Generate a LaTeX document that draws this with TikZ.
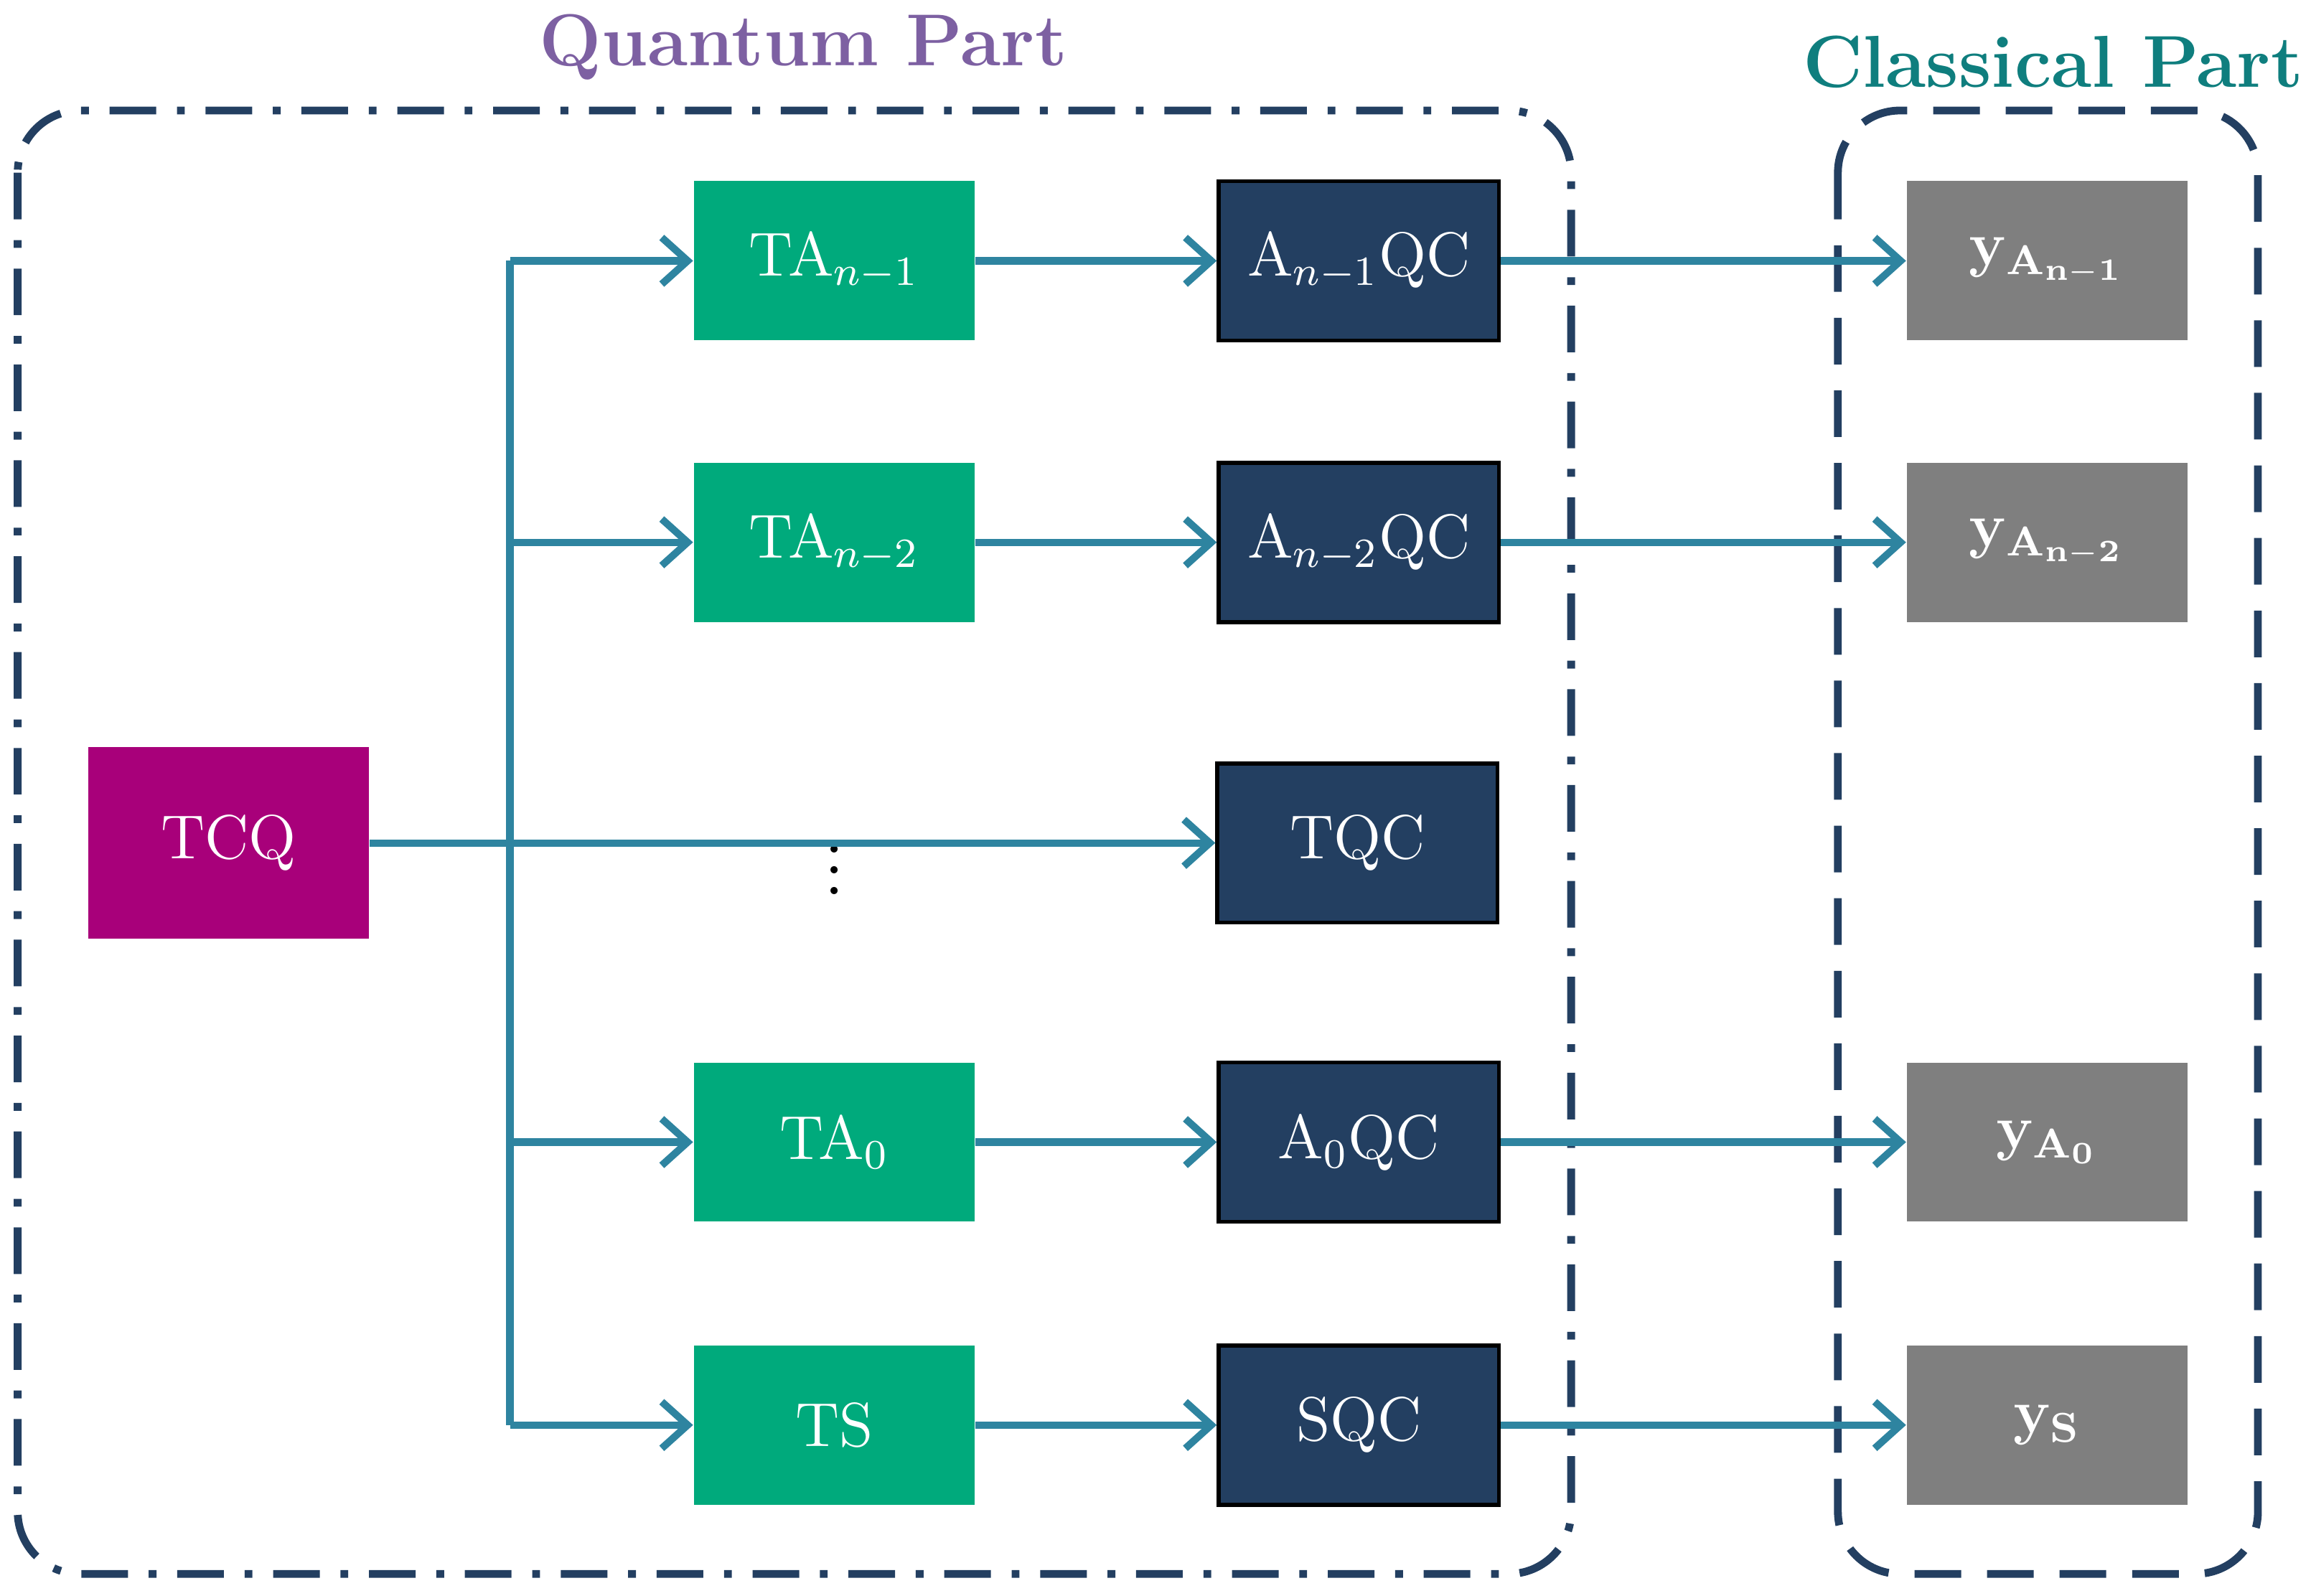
\documentclass[tikz,border=0pt]{standalone}
\usetikzlibrary{arrows.meta}
\definecolor{navy}{HTML}{233F61}
\definecolor{tgreen}{HTML}{00AA7C}
\definecolor{tcq}{HTML}{A8007A}
\definecolor{gbox}{HTML}{7F7F7F}
\definecolor{arr}{HTML}{2E84A0}
\definecolor{qpurple}{HTML}{7D60A2}
\definecolor{cteal}{HTML}{0F7E7E}
\begin{document}
\begin{tikzpicture}[x=0.01cm,y=-0.01cm,
  box/.style={minimum width=1.9cm,minimum height=1.08cm,inner sep=0pt,font=\large,text=white},
  ta/.style={box,fill=tgreen},
  qc/.style={box,fill=navy,draw=black,line width=0.8pt},
  yb/.style={box,fill=gbox},
  con/.style={draw=arr,line width=1.4pt,-{Straight Barb[length=5pt,width=9pt]}},
  bus/.style={draw=arr,line width=1.4pt}]
\useasboundingbox (0,0) rectangle (1568,1083);
\draw[navy,line width=1.5pt,dash pattern=on 9pt off 4pt on 1.5pt off 4pt,rounded corners=12pt] (12,75) rectangle (1066,1068);
\draw[navy,line width=1.5pt,dash pattern=on 9pt off 5pt,rounded corners=12pt] (1247,75) rectangle (1532,1068);
\node[text=qpurple,font=\bfseries\fontsize{14.2}{17}\selectfont] (qt) at (545,32) {Quantum Part};
\node[text=cteal,font=\bfseries\fontsize{14.2}{17}\selectfont] (ct) at (1393,42) {Classical Part};
\node[box,fill=tcq,minimum height=1.3cm] (tcq) at (155,572) {TCQ};
\node[ta] (ta1) at (566,177) {TA$_{n-1}$};
\node[ta] (ta2) at (566,368) {TA$_{n-2}$};
\node[ta] (ta0) at (566,775) {TA$_0$};
\node[ta] (ts) at (566,967) {TS};
\node[qc] (q1) at (922,177) {A$_{n-1}$QC};
\node[qc] (q2) at (922,368) {A$_{n-2}$QC};
\node[qc] (tqc) at (921,572) {TQC};
\node[qc] (q0) at (922,775) {A$_0$QC};
\node[qc] (sqc) at (922,967) {SQC};
\node[yb] (y1) at (1389,177) {$\mathbf{y}_{\mathbf{A_{n-1}}}$};
\node[yb] (y2) at (1389,368) {$\mathbf{y}_{\mathbf{A_{n-2}}}$};
\node[yb] (y0) at (1389,775) {$\mathbf{y}_{\mathbf{A_{0}}}$};
\node[yb] (ys) at (1389,967) {$\mathbf{y}_{\mathbf{S}}$};
\node[inner sep=0pt,font=\Large] (dots) at (566,580) {$\vdots$};
\coordinate (bt) at (346,177);
\coordinate (bb) at (346,967);
\draw[bus] (bt) -- (bb);
\draw[con] (bt) -- (ta1);
\draw[con] (346,368) -- (ta2);
\draw[con] (346,775) -- (ta0);
\draw[con] (bb) -- (ts);
\draw[con] (tcq) -- (tqc);
\foreach \a/\b in {ta1/q1,ta2/q2,ta0/q0,ts/sqc,q1/y1,q2/y2,q0/y0,sqc/ys}
  \draw[con] (\a) -- (\b);
\end{tikzpicture}
\end{document}
